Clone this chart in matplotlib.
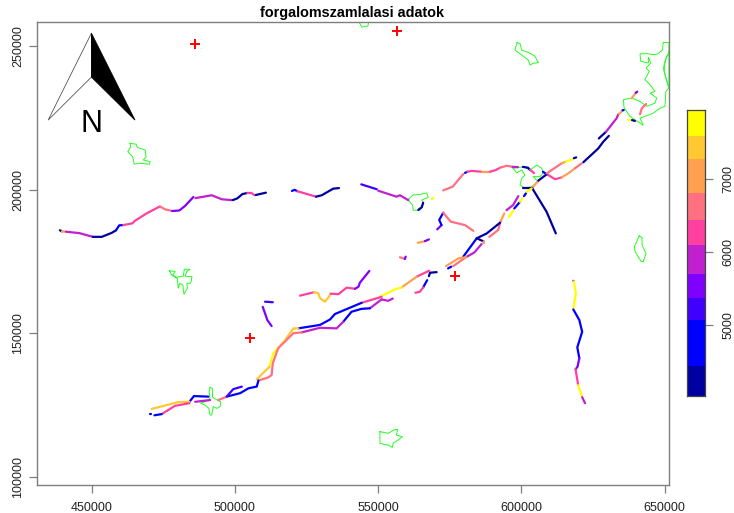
import matplotlib
matplotlib.use('Agg')
import matplotlib.pyplot as plt
from matplotlib.colors import ListedColormap, BoundaryNorm

plt.rcParams['font.family'] = ['Liberation Sans', 'DejaVu Sans']

# map coordinates are kept in km (EOV), one line per road section
road_x = [
    [438.9, 439.6], [439.6, 441.0], [441.0, 445.7, 450.4], [450.4, 453.5, 457.0, 458.5],
    [458.5, 459.6, 461.0], [461.0, 464.2, 465.1, 469.2, 473.8], [473.8, 475.6, 478.1],
    [478.1, 480.6, 482.6, 485.5], [486.2, 491.9, 495.4, 498.9], [499.2, 500.8, 502.6, 504.3],
    [504.3, 505.7, 506.9], [507.3, 510.8],
    [519.9, 520.8, 521.8], [521.8, 528.3], [528.3, 530.3, 534.3, 536.3],
    [544.1, 549.5], [550.0, 556.4, 557.6, 560.5], [565.7, 565.2, 564.0], [568.7, 569.2],
    [572.7, 576.0, 579.7], [580.3, 581.1], [581.1, 582.6, 586.1], [586.1, 589.0],
    [589.0, 591.1, 592.5], [592.5, 594.9, 596.9], [596.9, 598.8], [600.5, 602.3, 603.0],
    [603.0, 604.4],
    [607.5, 608.4], [608.8, 611.7, 614.0], [614.0, 616.3, 618.7], [618.7, 621.0],
    [621.6, 626.8, 628.6, 630.5], [627.0, 629.5], [629.5, 633.2, 633.8], [634.1, 635.3],
    [635.3, 635.7], [637.1, 638.5], [638.6, 639.6], [641.4, 642.0, 643.5], [638.5, 639.9],
    [639.9, 640.4],
    [603.6, 605.9], [605.9, 608.8], [608.8, 614.0], [614.0, 615.5], [615.5, 617.7], [618.3, 619.1],
    [600.6, 603.6], [603.8, 608.8, 612.0],
    [594.8, 597.1, 598.9], [595.6, 597.1], [597.5, 599.5], [599.5, 600.4], [600.9, 601.6], [601.8, 603.6],
    [594.0, 592.7], [592.7, 591.9, 588.8], [592.5, 587.9, 584.4], [584.4, 579.7], [584.4, 586.8],
    [586.8, 586.9], [586.1, 583.5, 580.6], [580.6, 576.2], [580.6, 578.0, 573.7], [574.4, 575.5],
    [567.7, 568.1, 570.4], [565.7, 567.1], [563.0, 564.6, 565.7],
    [567.8, 563.4], [563.4, 558.2], [558.2, 555.9, 553.5, 550.6], [551.2, 544.2],
    [544.2, 534.9, 533.2, 529.7, 522.1], [522.1, 520.4, 517.5], [517.5, 513.4, 512.0],
    [512.0, 509.7, 507.6],
    [555.1, 553.5, 551.2], [551.2, 547.1], [547.1, 544.2, 540.7, 537.8], [537.8, 535.5, 529.7, 523.3],
    [523.3, 520.4, 515.1, 513.2, 512.8, 511.6, 508.2], [508.2, 507.6, 504.7, 501.8, 497.1],
    [497.1, 494.2], [497.1, 499.4, 502.4],
    [490.7, 485.7, 484.1], [484.1, 480.2, 470.9], [486.1, 491.3], [484.1, 479.1, 474.4],
    [474.4, 471.9], [470.5, 470.7],
    [510.5, 513.2], [509.7, 511.3, 512.8],
    [522.7, 527.6], [527.6, 529.1, 529.7, 531.4, 532.8, 533.4], [533.4, 536.1, 539.0, 541.9],
    [541.9, 543.1, 543.6, 546.9],
    [557.6, 559.3], [559.3, 559.6], [563.8, 566.3], [566.3, 567.7],
    [570.6, 572.1], [572.1, 571.3, 572.7], [572.7, 575.3, 580.3, 583.2],
    [618.1, 618.3], [618.3, 619.0, 618.1], [618.1, 620.2, 621.2, 619.5, 620.2], [620.2, 619.6, 618.9],
    [618.9, 619.8], [619.8, 621.2], [621.2, 622.2],
]
road_y = [
    [185.9, 185.5], [185.5, 185.4], [185.4, 184.9, 183.6], [183.6, 183.6, 185.0, 185.9],
    [185.9, 187.6, 187.7], [187.7, 188.3, 189.2, 191.8, 194.2], [194.2, 193.2, 192.6],
    [192.6, 192.8, 194.4, 197.5], [197.1, 198.1, 196.7, 196.4], [196.4, 197.0, 198.5, 198.9],
    [198.9, 198.9, 198.1], [198.2, 199.0],
    [199.6, 200.0, 199.5], [199.5, 197.6], [197.6, 198.1, 200.4, 200.6],
    [201.9, 200.2], [199.7, 197.6, 198.1, 196.4], [195.5, 193.9, 193.0], [196.8, 197.1],
    [199.8, 201.1, 205.5], [205.9, 206.3], [206.3, 206.6, 206.3], [206.3, 206.3],
    [206.3, 206.9, 207.7], [207.7, 208.4, 208.0], [208.0, 207.9], [208.0, 207.7, 206.9],
    [207.0, 205.8],
    [206.3, 205.7], [205.5, 203.7, 204.3], [204.3, 205.7, 207.5], [207.5, 209.2],
    [209.6, 214.4, 216.8, 218.8], [217.9, 220.2], [220.2, 224.9, 226.3], [226.4, 227.7],
    [227.7, 227.8], [224.3, 224.3], [224.3, 224.0], [226.3, 228.4, 229.9], [231.9, 233.8],
    [233.8, 234.2],
    [200.5, 203.2], [203.2, 205.4], [205.7, 209.2], [209.2, 209.8], [209.8, 210.6], [211.0, 211.3],
    [200.7, 200.7], [200.5, 192.3, 184.8],
    [192.9, 194.7, 197.8], [190.5, 192.7], [193.5, 195.8], [195.8, 197.0], [197.8, 198.8], [199.3, 200.5],
    [191.8, 188.9], [188.9, 186.0, 183.6], [188.5, 184.8, 183.1], [183.1, 176.7], [183.1, 182.0],
    [182.0, 181.4], [181.1, 178.1, 176.5], [176.5, 173.4], [176.5, 176.1, 173.4], [172.6, 173.2],
    [169.9, 171.1, 171.3], [166.0, 168.5], [164.1, 164.5, 166.0],
    [171.8, 169.7], [169.7, 166.0], [166.0, 165.3, 164.1, 162.7], [162.7, 160.6],
    [160.6, 156.7, 154.8, 152.9, 151.7], [151.7, 151.7, 147.6], [147.6, 143.0, 138.3],
    [138.3, 136.0, 133.9],
    [162.1, 161.3, 161.8], [161.8, 158.7], [158.7, 158.5, 157.5, 154.0], [154.0, 151.7, 151.9, 150.3],
    [150.3, 150.0, 144.8, 139.5, 135.4, 134.6, 133.5], [133.5, 131.4, 130.8, 129.1, 127.9],
    [127.9, 126.7], [127.9, 130.5, 131.4],
    [127.9, 128.1, 126.1], [126.1, 126.0, 123.6], [126.1, 126.7], [125.6, 124.7, 121.8],
    [121.8, 121.4], [121.9, 121.9],
    [161.0, 160.8], [159.2, 154.6, 152.5],
    [163.1, 164.3], [164.3, 163.9, 162.2, 161.0, 162.7, 163.8], [163.8, 163.6, 165.9, 165.5],
    [165.5, 166.2, 167.6, 171.7],
    [176.5, 175.9], [175.9, 176.7], [181.5, 182.1], [182.1, 182.7],
    [186.2, 187.7], [187.7, 189.5, 192.0], [192.0, 188.9, 187.7, 185.7],
    [168.3, 168.0], [168.0, 163.9, 158.7], [158.3, 154.6, 150.5, 145.1, 141.3], [141.3, 138.4, 137.4],
    [137.4, 131.9], [131.9, 127.7], [127.7, 125.6],
]
road_count = [
    4300, 7000, 5800, 4300, 4700, 6300, 6600, 5500, 5800, 4300, 6300, 4300,
    4700, 6300, 4300,
    5200, 5800, 4300, 7800,
    6600, 4700, 6300, 7000, 6300, 6600, 5800, 4300, 6300,
    4700, 6300, 7000, 6600, 4300, 4300, 5800, 7200, 4700, 7800, 4300, 6600, 7000, 5500,
    7100, 4300, 6500, 7200, 7700, 4300,
    4300, 4300,
    5800, 7800, 4700, 7800, 4800, 7700,
    7100, 6500, 4300, 4600, 4300, 7100, 5800, 6600, 7000, 4700,
    4300, 4700, 6300,
    6400, 7000, 7800, 6300, 4500, 7400, 7800, 7400,
    5800, 5800, 4700, 5800, 6600, 4500, 6600, 5200,
    4700, 7400, 5800, 6300, 4700, 4500,
    5200, 5500,
    6300, 7400, 6300, 5500,
    6600, 5500, 7200, 5400,
    5500, 5000, 6700,
    5900, 7800, 4700, 5400, 6300, 7800, 5900,
]

# settlement outlines
town_x = [
    [463.4, 465.5, 465.9, 468.6, 469.0, 468.0, 470.4, 470.1, 467.5, 464.8, 464.3, 462.6, 463.6],
    [477.1, 479.1, 478.3, 479.4, 482.0, 482.3, 484.3, 483.2, 482.6, 485.0, 484.7, 484.3, 483.2, 483.4, 482.2, 481.8, 480.8, 480.2, 479.9, 477.9],
    [491.3, 492.1, 492.2, 493.8, 495.0, 495.0, 493.8, 492.4, 491.9, 491.3, 490.9, 489.5, 488.0, 489.5, 491.3, 491.0],
    [550.6, 553.5, 555.5, 556.8, 556.4, 558.4, 557.0, 555.3, 554.9, 553.5, 550.6],
    [560.5, 562.2, 564.6, 566.9, 567.5, 565.2, 565.7, 564.6, 562.2, 562.0, 560.5],
    [598.5, 599.5, 600.1, 602.4, 604.7, 605.9, 604.1, 603.0, 602.4, 600.1, 597.7],
    [597.1, 600.6, 603.0, 605.3, 607.1, 607.6, 606.5, 604.1, 605.9, 603.6, 601.2, 599.5, 600.1, 601.2, 600.1, 598.3],
    [651.5, 649.5, 649.2, 647.4, 646.0, 643.7, 641.4, 641.6, 644.3, 644.3, 645.1, 643.5, 644.6, 643.1, 644.9, 646.6, 644.9, 647.2, 646.6, 643.7, 641.4, 638.5, 635.6, 635.8, 637.9, 642.5, 641.4, 646.0, 648.4, 650.1, 650.4, 651.5, 649.5, 650.7, 651.5],
    [651.5, 650.1, 649.8, 650.7, 651.5],
    [641.1, 642.1, 642.1, 643.5, 642.5, 641.7, 639.7, 639.4],
    [542.9, 544.3, 546.4, 546.8],
]
town_y = [
    [216.2, 215.9, 214.8, 213.9, 211.5, 210.4, 209.8, 208.9, 209.2, 209.0, 211.5, 213.3, 215.0],
    [171.8, 171.5, 170.3, 169.5, 169.9, 172.3, 172.3, 171.5, 169.9, 169.7, 168.0, 167.4, 167.4, 165.7, 163.6, 166.8, 167.4, 165.7, 169.1, 170.3],
    [131.1, 130.8, 127.7, 126.7, 126.1, 124.7, 123.8, 124.4, 121.5, 121.5, 123.8, 125.0, 125.6, 126.1, 127.3, 129.6],
    [115.7, 115.1, 116.3, 116.5, 114.5, 113.9, 112.8, 111.8, 110.2, 111.0, 111.6],
    [196.7, 198.2, 198.4, 198.9, 197.4, 196.4, 195.3, 192.9, 192.9, 194.7, 196.4],
    [251.3, 251.0, 248.7, 247.9, 246.6, 244.3, 244.1, 243.5, 245.2, 247.0, 248.7],
    [207.5, 208.0, 206.9, 208.6, 207.5, 205.9, 204.6, 204.6, 202.8, 201.1, 200.5, 201.7, 204.0, 205.1, 206.9, 205.9],
    [251.3, 251.4, 248.8, 247.3, 247.1, 247.5, 247.4, 244.8, 244.2, 246.2, 244.2, 242.4, 241.3, 238.4, 236.6, 234.3, 233.7, 232.0, 230.2, 229.1, 230.8, 232.0, 231.4, 228.7, 225.6, 222.5, 225.0, 226.7, 228.5, 229.1, 234.3, 235.5, 242.4, 246.5, 247.1],
    [248.2, 244.8, 241.3, 237.8, 235.5],
    [183.9, 183.4, 180.7, 177.8, 174.9, 175.1, 178.4, 180.1],
    [259.2, 256.7, 257.1, 259.2],
]

# counting stations
station_x = [485.9, 556.4, 576.8, 505.3]
station_y = [250.8, 255.3, 169.9, 148.3]

# legend
breaks = [4034, 4448, 5076, 5373, 5705, 6093, 6438, 6811, 7272, 7590, 7941]
colors = ['#0000A0', '#0000FF', '#4000FF', '#8000FF', '#C020D0',
          '#FF40A0', '#FF7080', '#FFA050', '#FFC830', '#FFFF00']
xticks = [450000, 500000, 550000, 600000, 650000]
yticks = [100000, 150000, 200000, 250000]
cbar_ticks = [5000, 6000, 7000]

# north arrow
arrow_x = [449.9, 434.8, 465.1]
arrow_y = [254.6, 224.3, 224.3]
arrow_mid_y = 239.3

W, H = 734.0, 513.0
GREY = '#7f7f7f'
cmap = ListedColormap(colors)
norm = BoundaryNorm(breaks, cmap.N)

fig = plt.figure(figsize=(7.34, 5.13), dpi=100)
ax = fig.add_axes([36.7 / W, 1 - 484.7 / H, 632.0 / W, 463.0 / H])
ax.set_xlim(430800, 651400)
ax.set_ylim(97200, 258600)

for tx, ty in zip(town_x, town_y):
    closed_x = [v * 1000 for v in tx]
    closed_y = [v * 1000 for v in ty]
    ax.plot(closed_x + closed_x[:1], closed_y + closed_y[:1], color='#22ff22', lw=0.7, zorder=2)

for rx, ry, c in zip(road_x, road_y, road_count):
    ax.plot([v * 1000 for v in rx], [v * 1000 for v in ry], color=cmap(norm(c)), lw=1.6,
            solid_capstyle='round', solid_joinstyle='round', zorder=3)

ax.plot([v * 1000 for v in station_x], [v * 1000 for v in station_y], '+', color='red',
        ms=7, mew=1.4, zorder=4)

# north arrow
ax_x = [v * 1000 for v in arrow_x]
ax_y = [v * 1000 for v in arrow_y]
mid = arrow_mid_y * 1000
ax.fill([ax_x[0], ax_x[1], ax_x[0]], [ax_y[0], ax_y[1], mid], fc='white', ec='#555555', lw=0.6, zorder=5)
ax.fill([ax_x[0], ax_x[2], ax_x[0]], [ax_y[0], ax_y[2], mid], fc='black', ec='black', lw=0.6, zorder=5)
ax.text(ax_x[0], 223000, 'N', fontsize=22, ha='center', va='center', color='black', zorder=5)

for s in ax.spines.values():
    s.set_color(GREY)
    s.set_linewidth(1.0)
ax.set_xticks(xticks)
ax.set_yticks(yticks)
ax.set_xticklabels([str(v) for v in xticks])
ax.set_yticklabels([str(v) for v in yticks], rotation=90, va='center')
ax.tick_params(axis='both', length=5.5, width=0.9, color=GREY, labelsize=9, labelcolor='#222222')
ax.tick_params(axis='x', pad=7)
ax.tick_params(axis='y', pad=3.5)
fig.text(352 / W, 1 - 13.5 / H, 'forgalomszamlalasi adatok', fontsize=10.4, fontweight='bold',
         ha='center', va='center', color='black')

# colour key
cax = fig.add_axes([687.3 / W, 1 - 396.0 / H, 17.4 / W, 286.0 / H])
cax.bar([0] * len(colors), [b - a for a, b in zip(breaks[:-1], breaks[1:])], bottom=breaks[:-1],
        width=1.0, color=colors, linewidth=0)
cax.set_xlim(-0.5, 0.5)
cax.set_ylim(breaks[0], breaks[-1])
cax.set_xticks([])
cax.yaxis.tick_right()
cax.set_yticks(cbar_ticks)
cax.set_yticklabels([str(v) for v in cbar_ticks], rotation=90, va='center')
cax.tick_params(axis='y', length=5.5, width=0.9, color=GREY, labelsize=9, labelcolor='#222222', pad=7)
for s in cax.spines.values():
    s.set_color('#444444')
    s.set_linewidth(0.9)

fig.savefig('out.png', dpi=100)
